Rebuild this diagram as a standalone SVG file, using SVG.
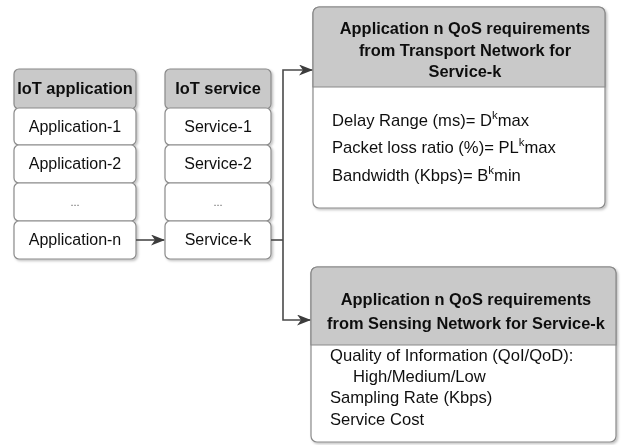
<svg xmlns="http://www.w3.org/2000/svg" width="621" height="445" viewBox="0 0 621 445">
  <style>
    .cell { fill: #ffffff; stroke: #8a8a8a; stroke-width: 1.2; }
    .head { fill: #c9c9c9; stroke: #8a8a8a; stroke-width: 1.2; }
    .frame { fill: #ffffff; stroke: #8a8a8a; stroke-width: 1.2; }
    .t { font-family: "Liberation Sans", Arial, sans-serif; font-size: 16px; fill: #111; }
    .body { font-size: 16.6px; }
    .b { font-family: "Liberation Sans", Arial, sans-serif; font-size: 16.4px; font-weight: bold; fill: #111; }
    .c { text-anchor: middle; }
    .dots { font-size: 11px; fill: #666; }
    .wire { fill: none; stroke: #4a4a4a; stroke-width: 1.6; }
  </style>
  <defs>
    <marker id="arrow" viewBox="0 0 14 11" refX="13" refY="5.5" markerWidth="14" markerHeight="11" markerUnits="userSpaceOnUse" orient="auto">
      <path d="M0,0 L14,5.5 L0,11 L4,5.5 Z" fill="#3c3c3c"/>
    </marker>
    <filter id="shadow" x="-5%" y="-5%" width="115%" height="115%">
      <feDropShadow dx="1.5" dy="1.5" stdDeviation="1.2" flood-color="#000" flood-opacity="0.25"/>
    </filter>
  </defs>

  <!-- IoT application column -->
  <g id="iot-application" filter="url(#shadow)">
    <rect class="head" x="14" y="69" width="122" height="40" rx="5"/>
    <text class="b c" x="75" y="94">IoT application</text>
    <rect class="cell" x="14" y="108" width="122" height="37" rx="5"/>
    <text class="t c" x="75" y="132">Application-1</text>
    <rect class="cell" x="14" y="145" width="122" height="38" rx="5"/>
    <text class="t c" x="75" y="169">Application-2</text>
    <rect class="cell" x="14" y="183" width="122" height="38" rx="5"/>
    <text class="t c dots" x="75" y="206">...</text>
    <rect class="cell" x="14" y="221" width="122" height="38" rx="5"/>
    <text class="t c" x="75" y="245">Application-n</text>
  </g>

  <!-- IoT service column -->
  <g id="iot-service" filter="url(#shadow)">
    <rect class="head" x="165" y="69" width="106" height="40" rx="5"/>
    <text class="b c" x="218" y="94">IoT service</text>
    <rect class="cell" x="165" y="108" width="106" height="37" rx="5"/>
    <text class="t c" x="218" y="132">Service-1</text>
    <rect class="cell" x="165" y="145" width="106" height="38" rx="5"/>
    <text class="t c" x="218" y="169">Service-2</text>
    <rect class="cell" x="165" y="183" width="106" height="38" rx="5"/>
    <text class="t c dots" x="218" y="206">...</text>
    <rect class="cell" x="165" y="221" width="106" height="38" rx="5"/>
    <text class="t c" x="218" y="245">Service-k</text>
  </g>

  <!-- Transport network requirements -->
  <g id="transport-qos" filter="url(#shadow)">
    <rect class="frame" x="313" y="7" width="292" height="201" rx="6"/>
    <path class="head" d="M313,87 V13 a6,6 0 0 1 6,-6 H599 a6,6 0 0 1 6,6 V87 Z"/>
    <text class="b c" x="465" y="34">Application n QoS requirements</text>
    <text class="b c" x="465" y="56">from Transport Network for</text>
    <text class="b c" x="465" y="77">Service-k</text>
    <text class="t body" x="332" y="126">Delay Range (ms)= D<tspan dy="-7" font-size="11.5">k</tspan><tspan dy="7">max</tspan></text>
    <text class="t body" x="332" y="153">Packet loss ratio (%)= PL<tspan dy="-7" font-size="11.5">k</tspan><tspan dy="7">max</tspan></text>
    <text class="t body" x="332" y="181">Bandwidth (Kbps)= B<tspan dy="-7" font-size="11.5">k</tspan><tspan dy="7">min</tspan></text>
  </g>

  <!-- Sensing network requirements -->
  <g id="sensing-qos" filter="url(#shadow)">
    <rect class="frame" x="311" y="267" width="305" height="175" rx="6"/>
    <path class="head" d="M311,345 V273 a6,6 0 0 1 6,-6 H610 a6,6 0 0 1 6,6 V345 Z"/>
    <text class="b c" x="466" y="305">Application n QoS requirements</text>
    <text class="b c" x="466" y="329">from Sensing Network for Service-k</text>
    <text class="t body" x="330" y="361">Quality of Information (QoI/QoD):</text>
    <text class="t body" x="353" y="382">High/Medium/Low</text>
    <text class="t body" x="330" y="403">Sampling Rate (Kbps)</text>
    <text class="t body" x="330" y="425">Service Cost</text>
  </g>

  <!-- connectors -->
  <g id="connectors">
    <path class="wire" d="M136,240 H164" marker-end="url(#arrow)"/>
    <path class="wire" d="M271,240 H283"/>
    <path class="wire" d="M283,240 V70 H312" marker-end="url(#arrow)"/>
    <path class="wire" d="M283,240 V320 H310" marker-end="url(#arrow)"/>
  </g>
</svg>
